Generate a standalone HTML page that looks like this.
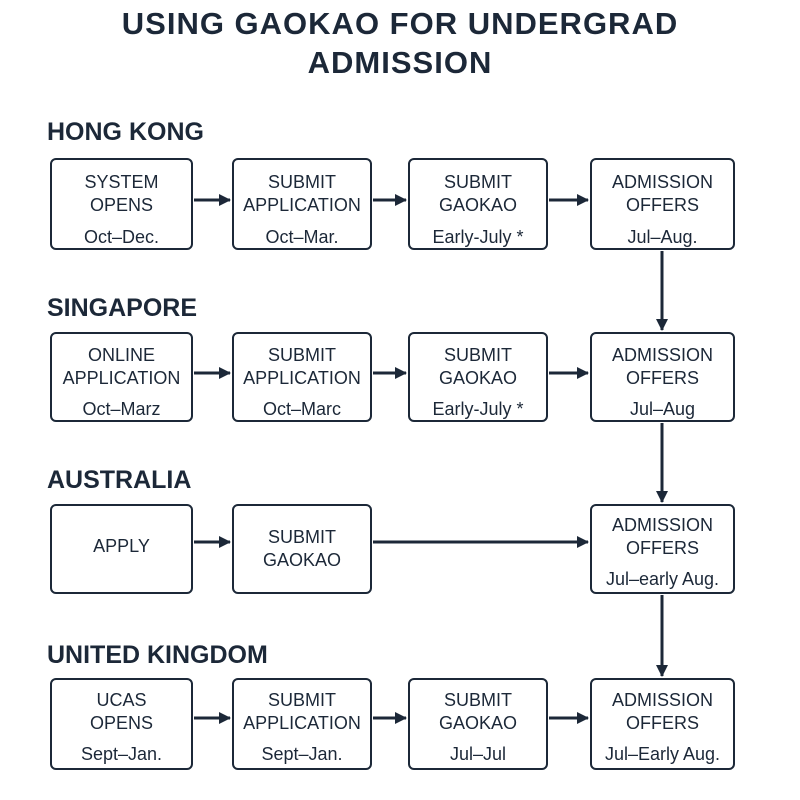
<!DOCTYPE html>
<html><head><meta charset="utf-8"><style>
body{margin:0;width:800px;height:800px;background:#fff;overflow:hidden;font-family:"Liberation Sans",sans-serif;color:#1c2838;position:relative}
.t{position:absolute;left:0;width:800px;text-align:center;font-weight:bold;font-size:31px;letter-spacing:1px}
.h{position:absolute;left:47px;font-weight:bold;font-size:25px}
.b{position:absolute;border:2px solid #1c2838;border-radius:6px;box-sizing:border-box;text-align:center;font-size:18px;line-height:23px}
</style></head><body>
<div class="t" style="top:6px">USING GAOKAO FOR UNDERGRAD</div>
<div class="t" style="top:45px">ADMISSION</div>
<div class="h" style="top:118px">HONG KONG</div>
<div class="h" style="top:294px">SINGAPORE</div>
<div class="h" style="top:466px">AUSTRALIA</div>
<div class="h" style="top:641px">UNITED KINGDOM</div>

<div class="b" style="left:50px;top:158px;width:143px;height:92px;padding-top:11px">SYSTEM<br>OPENS<div style="margin-top:9px">Oct–Dec.</div></div>
<div class="b" style="left:232px;top:158px;width:140px;height:92px;padding-top:11px">SUBMIT<br>APPLICATION<div style="margin-top:9px">Oct–Mar.</div></div>
<div class="b" style="left:408px;top:158px;width:140px;height:92px;padding-top:11px">SUBMIT<br>GAOKAO<div style="margin-top:9px">Early-July *</div></div>
<div class="b" style="left:590px;top:158px;width:145px;height:92px;padding-top:11px">ADMISSION<br>OFFERS<div style="margin-top:9px">Jul–Aug.</div></div>

<div class="b" style="left:50px;top:332px;width:143px;height:90px;padding-top:10px">ONLINE<br>APPLICATION<div style="margin-top:8px">Oct–Marz</div></div>
<div class="b" style="left:232px;top:332px;width:140px;height:90px;padding-top:10px">SUBMIT<br>APPLICATION<div style="margin-top:8px">Oct–Marc</div></div>
<div class="b" style="left:408px;top:332px;width:140px;height:90px;padding-top:10px">SUBMIT<br>GAOKAO<div style="margin-top:8px">Early-July *</div></div>
<div class="b" style="left:590px;top:332px;width:145px;height:90px;padding-top:10px">ADMISSION<br>OFFERS<div style="margin-top:8px">Jul–Aug</div></div>

<div class="b" style="left:50px;top:504px;width:143px;height:90px;padding-top:29px">APPLY</div>
<div class="b" style="left:232px;top:504px;width:140px;height:90px;padding-top:20px">SUBMIT<br>GAOKAO</div>
<div class="b" style="left:590px;top:504px;width:145px;height:90px;padding-top:8px">ADMISSION<br>OFFERS<div style="margin-top:8px">Jul–early Aug.</div></div>

<div class="b" style="left:50px;top:678px;width:143px;height:92px;padding-top:9px">UCAS<br>OPENS<div style="margin-top:8px">Sept–Jan.</div></div>
<div class="b" style="left:232px;top:678px;width:140px;height:92px;padding-top:9px">SUBMIT<br>APPLICATION<div style="margin-top:8px">Sept–Jan.</div></div>
<div class="b" style="left:408px;top:678px;width:140px;height:92px;padding-top:9px">SUBMIT<br>GAOKAO<div style="margin-top:8px">Jul–Jul</div></div>
<div class="b" style="left:590px;top:678px;width:145px;height:92px;padding-top:9px">ADMISSION<br>OFFERS<div style="margin-top:8px">Jul–Early Aug.</div></div>

<svg width="800" height="800" style="position:absolute;left:0;top:0">
<defs><marker id="a" markerWidth="12" markerHeight="12" refX="11" refY="6" orient="auto" markerUnits="userSpaceOnUse"><path d="M0,0L12,6L0,12z" fill="#1c2838"/></marker></defs>
<g stroke="#1c2838" stroke-width="3" marker-end="url(#a)">
<line x1="194" y1="200" x2="230" y2="200"/><line x1="373" y1="200" x2="406" y2="200"/><line x1="549" y1="200" x2="588" y2="200"/>
<line x1="194" y1="373" x2="230" y2="373"/><line x1="373" y1="373" x2="406" y2="373"/><line x1="549" y1="373" x2="588" y2="373"/>
<line x1="194" y1="542" x2="230" y2="542"/><line x1="373" y1="542" x2="588" y2="542"/>
<line x1="194" y1="718" x2="230" y2="718"/><line x1="373" y1="718" x2="406" y2="718"/><line x1="549" y1="718" x2="588" y2="718"/>
<line x1="662" y1="251" x2="662" y2="330"/><line x1="662" y1="423" x2="662" y2="502"/><line x1="662" y1="595" x2="662" y2="676"/>
</g></svg>
</body></html>
